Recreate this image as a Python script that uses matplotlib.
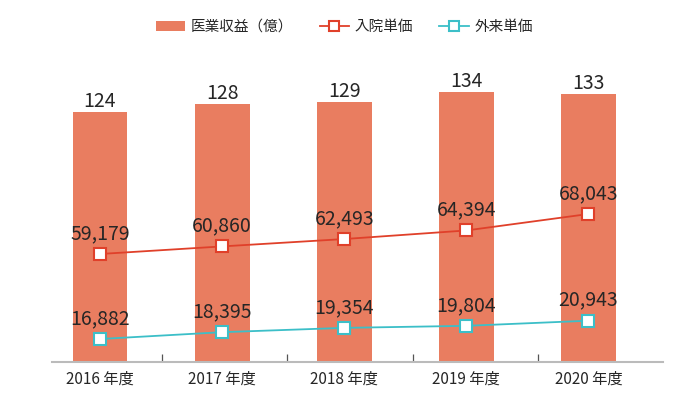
import matplotlib.pyplot as plt
from matplotlib.lines import Line2D
from matplotlib.patches import Patch

plt.rcParams['font.family'] = ['Noto Sans CJK JP', 'DejaVu Sans']

# data
years = ['2016 年度', '2017 年度', '2018 年度', '2019 年度', '2020 年度']
revenue = [124, 128, 129, 134, 133]          # 医業収益（億）
inpatient = [59179, 60860, 62493, 64394, 68043]   # 入院単価
outpatient = [16882, 18395, 19354, 19804, 20943]  # 外来単価

bar_color = '#E97D60'
red = '#E0402A'
cyan = '#3CBFC8'
text_color = '#262626'

fig = plt.figure(figsize=(7, 3.93), dpi=100)
W, H = 700, 393
left, right, bottom, top = 52, 663, 362, 40
ax = fig.add_axes([left / W, 1 - bottom / H, (right - left) / W, (bottom - top) / H])

x = list(range(len(years)))
ax.bar(x, revenue, width=0.45, color=bar_color, zorder=1)
ax.set_xlim(-0.393, 4.611)
ax.set_ylim(0, 160)
for xi, v in zip(x, revenue):
    ax.annotate(f'{v}', (xi, v), xytext=(0, 0), textcoords='offset pixels',
                ha='center', va='bottom', fontsize=14, color=text_color)

for s in ['top', 'right', 'left']:
    ax.spines[s].set_visible(False)
ax.spines['bottom'].set_color('#BBBBBB')
ax.spines['bottom'].set_linewidth(1.5)
ax.set_yticks([])
ax.set_xticks(x)
ax.set_xticklabels(years, fontsize=11, color=text_color)
ax.tick_params(axis='x', length=0, pad=6)
ax.set_xticks([0.505, 1.532, 2.564, 3.59], minor=True)
ax.tick_params(axis='x', which='minor', direction='in', length=6, color='#555555', width=0.9)

# line axes
def line_axis(vals, ylim, color):
    a = ax.twinx()
    a.set_ylim(*ylim)
    a.axis('off')
    a.plot(x, vals, color=color, lw=1.3, marker='s', markersize=8,
           markerfacecolor='white', markeredgecolor=color, markeredgewidth=1.5, zorder=3)
    for xi, v in zip(x, vals):
        a.annotate(f'{v:,}', (xi, v), xytext=(0, 10), textcoords='offset pixels',
                   ha='center', va='bottom', fontsize=14, color=text_color)
    return a

line_axis(inpatient, (35246, 106601), red)
line_axis(outpatient, (11776, 83260), cyan)

handles = [
    Patch(facecolor=bar_color, edgecolor='none'),
    Line2D([], [], color=red, lw=1.3, marker='s', markersize=7,
           markerfacecolor='white', markeredgecolor=red, markeredgewidth=1.5),
    Line2D([], [], color=cyan, lw=1.3, marker='s', markersize=7,
           markerfacecolor='white', markeredgecolor=cyan, markeredgewidth=1.5),
]
labels = ['医業収益（億）', '入院単価', '外来単価']
fig.legend(handles, labels, loc='center', bbox_to_anchor=(0.492, 1 - 27 / H), ncol=3,
           frameon=False, fontsize=10.5, handlelength=2.0,
           handletextpad=0.4, columnspacing=1.8, labelcolor=text_color)

fig.savefig('out.png', dpi=100)
